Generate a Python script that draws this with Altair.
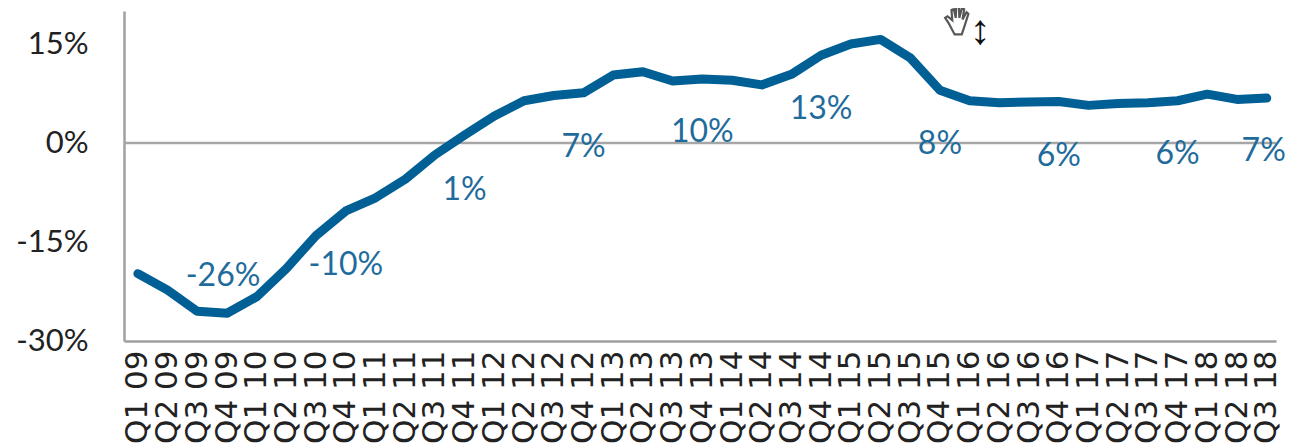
import altair as alt
import pandas as pd

quarters = [f"Q{q} {y:02d}" for y in range(9, 19) for q in (1, 2, 3, 4)][:39]
growth = [-19.8, -22.3, -25.5, -25.8, -23.3, -19.0, -14.0, -10.3, -8.3, -5.5,
          -1.8, 1.2, 4.1, 6.4, 7.2, 7.6, 10.3, 10.8, 9.4, 9.7,
          9.5, 8.8, 10.4, 13.3, 15.0, 15.7, 12.9, 8.0, 6.4, 6.1,
          6.2, 6.3, 5.7, 6.0, 6.1, 6.4, 7.4, 6.6, 6.8]
label_quarters = ["Q4 09", "Q4 10", "Q4 11", "Q4 12", "Q4 13", "Q4 14", "Q4 15", "Q4 16", "Q4 17", "Q3 18"]
label_texts = ["-26%", "-10%", "1%", "7%", "10%", "13%", "8%", "6%", "6%", "7%"]
label_anchor = [-19.9, -18.2, -6.8, -0.3, 1.9, 5.4, 0.2, -1.6, -1.4, -0.9]
label_shift = [-4, 0, 0, 0, 0, 0, 0, 0, 0, -3]
y_ticks = [-30, -15, 0, 15]

FONT = "Lato"
df = pd.DataFrame({"quarter": quarters, "growth": growth})
labels = pd.DataFrame({"quarter": label_quarters, "text": label_texts, "growth": label_anchor, "shift": label_shift})

x_scale = alt.Scale(type="point", domain=quarters, padding=0.39, align=0.6)
y_scale = alt.Scale(domain=[-30, 20], nice=False)
x = alt.X("quarter:N", sort=quarters, title=None, scale=x_scale,
          axis=alt.Axis(labelAngle=270, labelFontSize=31, labelFont="DejaVu Sans", labelColor="#222222",
                        labelPadding=9, ticks=False, domainColor="#a0a0a0", domainWidth=2.5,
                        labelOverlap=False, labelAlign="right", labelBaseline="middle",
                        labelLimit=0, grid=False))
y = alt.Y("growth:Q", title=None, scale=y_scale,
          axis=alt.Axis(values=y_ticks, labelExpr="datum.value + '%'", labelFontSize=31, labelFont=FONT,
                        labelColor="#222222", labelPadding=36, ticks=False, domainColor="#a0a0a0",
                        domainWidth=2.5, grid=False))

zero = alt.Chart(pd.DataFrame({"growth": [0]})).mark_rule(color="#a6a6a6", strokeWidth=2.5).encode(
    y=y, x=alt.value(0), x2=alt.value(1152))
line = alt.Chart(df).mark_line(color="#005f94", strokeWidth=9, strokeCap="round", strokeJoin="round").encode(x=x, y=y)
text = alt.Chart(labels).mark_text(color="#1f6c9c", fontSize=32, font=FONT, dy=2).encode(
    x=x, y=y, xOffset=alt.XOffset("shift:Q", scale=None), text="text:N")

hand = ("M-0.55 0.1 L-0.75 -0.2 L-0.6 -0.3 L-0.3 -0.05 L-0.35 -0.7 L-0.2 -0.75 L-0.08 -0.2 L-0.05 -0.9 "
        "L0.12 -0.9 L0.15 -0.2 L0.3 -0.8 L0.45 -0.75 L0.35 -0.1 L0.6 -0.55 L0.72 -0.45 L0.45 0.4 "
        "L0.3 0.85 L-0.15 0.85 Z")
icon = alt.Chart(pd.DataFrame({"k": [0]})).mark_point(shape=hand, size=1000, filled=False, color="#111111", strokeWidth=2.2).encode(
    x=alt.value(833), y=alt.value(10))
arrow = alt.Chart(pd.DataFrame({"k": [0]})).mark_text(text="↕", fontSize=42, font="Liberation Sans", color="#111111").encode(
    x=alt.value(856), y=alt.value(20))

chart = alt.layer(zero, line, text, icon, arrow).properties(
    width=1152, height=330, background="white",
    autosize=alt.AutoSizeParams(type="none"),
    padding={"left": 116, "top": 3, "right": 9, "bottom": 103},
).configure_view(strokeWidth=0)

chart.save("out.html", embed_options={"renderer": "svg", "actions": False})
